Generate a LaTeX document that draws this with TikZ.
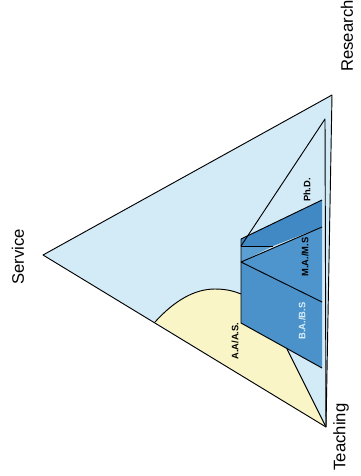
\documentclass[tikz,border=0pt]{standalone}
\usepackage{fontspec}
\setmainfont{Liberation Sans}
\definecolor{skyfill}{HTML}{D3EBF7}
\definecolor{yellowfill}{HTML}{F9F5C6}
\definecolor{bluea}{HTML}{4B92CB}
\definecolor{blueb}{HTML}{4E95CD}
\definecolor{bluec}{HTML}{4089C4}
\definecolor{blued}{HTML}{5C9FD3}
\definecolor{whitetext}{HTML}{DCEFF9}
\tikzset{
  edge/.style={draw=black, line width=0.7pt, line join=round},
  cornerlabel/.style={font=\fontsize{12.5}{14}\selectfont, rotate=90, inner sep=0pt},
  levellabel/.style={font=\fontsize{7}{8}\selectfont\bfseries, rotate=90, inner sep=0pt},
}
\begin{document}
\begin{tikzpicture}[x=0.75pt,y=-0.75pt]
\useasboundingbox (0,0) rectangle (361,476);
% outer triangle fill
\coordinate (S) at (43,255);
\coordinate (R) at (332,95);
\coordinate (T) at (326,427);
\fill[skyfill] (S) -- (R) -- (T) -- cycle;
% yellow region
\fill[yellowfill] (155,322) -- (T) -- (287,349) -- (241,323) -- (241,294)
  .. controls (236,292) and (228,289) .. (215,289)
  .. controls (195,289) and (175,300) .. (155,322) -- cycle;
% blue regions
\fill[bluea] (241,262) -- (241,323) -- (322,368) -- (322,302) -- cycle;
\fill[blueb] (241,262) -- (322,302) -- (322,227) -- cycle;
\fill[bluec] (241,239) -- (322,200) -- (322,227) -- (273,246) -- (241,246) -- cycle;
\fill[blued] (241,246) -- (273,246) -- (241,262) -- cycle;
% lines
\draw[edge] (S) -- (R) -- (T) -- cycle;
\draw[edge] (155,322) .. controls (175,300) and (195,289) .. (215,289)
  .. controls (228,289) and (236,292) .. (241,294);
\draw[edge] (287,349) -- (T);
\draw[edge] (241,239) -- (241,323) -- (322,368);
\draw[edge] (241,239) -- (322,200);
\draw[edge] (241,262) -- (322,302);
\draw[edge] (241,262) -- (322,227);
\draw[edge] (241,246) -- (273,246);
\draw[edge] (241,246) -- (325,119) -- (T);
% labels
\node[cornerlabel] (service) at (18,257) {Service};
\node[cornerlabel] (research) at (347,36) {Research};
\node[cornerlabel] (teaching) at (341,437) {Teaching};
\node[levellabel] (phd) at (307,190) {Ph.D.};
\node[levellabel] (ma) at (305,257) {M.A./M.S};
\node[levellabel, text=whitetext] (ba) at (302,321) {B.A./B.S};
\node[levellabel] (aa) at (235,341) {A.A/A.S.};
\end{tikzpicture}
\end{document}
